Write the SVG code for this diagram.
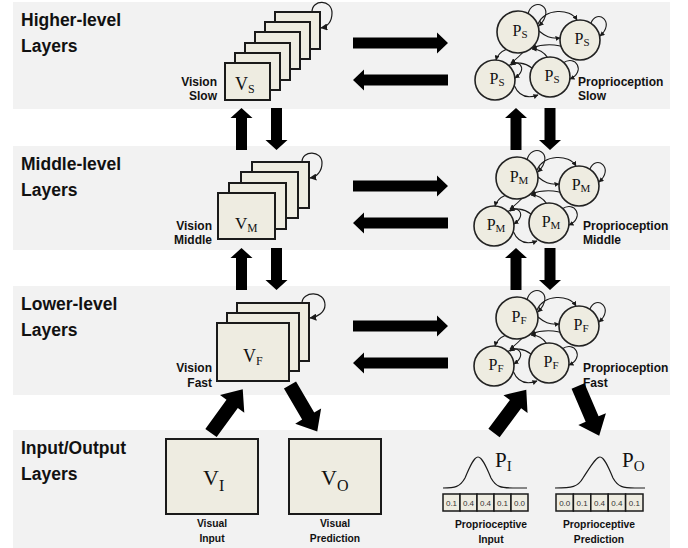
<svg xmlns="http://www.w3.org/2000/svg" xmlns:xlink="http://www.w3.org/1999/xlink" width="688" height="548" viewBox="0 0 688 548">
  <style>
    .band { fill: #f2f2f2; }
    .frame { fill: #eeece1; stroke: #1a1a1a; stroke-width: 2; }
    .unit { fill: #eeece1; stroke: #222; stroke-width: 1.6; }
    .cell { fill: #eeece1; stroke: #1a1a1a; stroke-width: 1.5; }
    .title { font-family: "Liberation Sans", Arial, sans-serif; font-weight: bold; font-size: 17.5px; fill: #111; }
    .lbl { font-family: "Liberation Sans", Arial, sans-serif; font-weight: bold; font-size: 12px; fill: #111; }
    .cap { font-family: "Liberation Sans", Arial, sans-serif; font-weight: bold; font-size: 10.3px; fill: #111; text-anchor: middle; }
    .sym { font-family: "Liberation Serif", "Times New Roman", serif; fill: #111; }
    .num { font-family: "Liberation Sans", Arial, sans-serif; font-size: 8px; fill: #333; text-anchor: middle; }
    .link { fill: none; stroke: #1a1a1a; stroke-width: 1.1; }
    .loop { fill: none; stroke: #1a1a1a; stroke-width: 1.2; }
    .bell { fill: none; stroke: #1a1a1a; stroke-width: 1.2; }
    .big { fill: #000; }
  </style>
  <defs>
    <marker id="tip" viewBox="0 0 10 10" refX="9" refY="5" markerWidth="5" markerHeight="5" markerUnits="userSpaceOnUse" orient="auto">
      <path d="M0,0 L10,5 L0,10 z" fill="#1a1a1a"/>
    </marker>
    <marker id="tipL" viewBox="0 0 10 10" refX="9" refY="5" markerWidth="7" markerHeight="7" markerUnits="userSpaceOnUse" orient="auto">
      <path d="M0,0 L10,5 L0,10 z" fill="#1a1a1a"/>
    </marker>
    <!-- recurrent wiring among four units, origin at the upper-left unit centre -->
    <g id="pnet">
      <path class="link" marker-end="url(#tip)" d="M10,-18 C14,-36 40,-26 21,-6"/>
      <path class="link" marker-end="url(#tip)" d="M73,-9 C79,-24 98,-10 82,4"/>
      <path class="link" marker-end="url(#tip)" d="M-9,34 C-2,25 12,36 -3,46"/>
      <path class="link" marker-end="url(#tip)" d="M45,31 C58,22 68,40 52,47"/>
      <path class="link" marker-end="url(#tip)" d="M20,-8 C27,-24 52,-24 59,-12"/>
      <path class="link" marker-end="url(#tip)" d="M21,-1 C27,4 32,7 42,6"/>
      <path class="link" marker-end="url(#tip)" d="M50,17 C38,11 24,12 14,16"/>
      <path class="link" marker-end="url(#tip)" d="M30,26 C26,20 20,17 14,17"/>
      <path class="link" marker-end="url(#tip)" d="M-11,17 C-18,20 -21,24 -22,28"/>
      <path class="link" marker-end="url(#tip)" d="M14,36 C6,30 -2,30 -7,33"/>
      <path class="link" marker-end="url(#tip)" d="M6,19 C2,24 -3,28 -7,31"/>
      <path class="link" marker-end="url(#tip)" d="M-4,53 C2,67 12,66 20,63"/>
    </g>
    <polygon id="arrR" points="0,-5.5 84,-5.5 84,-10.5 95,0 84,10.5 84,5.5 0,5.5"/>
    <polygon id="arrUp" points="0,0 11,10 5.5,10 5.5,42 -5.5,42 -5.5,10 -11,10"/>
    <polygon id="arrDiag" points="0,-7 36,-7 36,-15 54,0 36,15 36,7 0,7"/>
  </defs>

  <!-- layer bands -->
  <rect class="band" x="13" y="2" width="657" height="107"/>
  <rect class="band" x="13" y="146" width="657" height="104"/>
  <rect class="band" x="13" y="286" width="657" height="109"/>
  <rect class="band" x="13" y="430" width="657" height="118"/>

  <text class="title" x="21" y="26">Higher-level</text>
  <text class="title" x="21" y="52">Layers</text>
  <text class="title" x="21" y="170">Middle-level</text>
  <text class="title" x="21" y="196">Layers</text>
  <text class="title" x="21" y="310">Lower-level</text>
  <text class="title" x="21" y="336">Layers</text>
  <text class="title" x="21" y="454">Input/Output</text>
  <text class="title" x="21" y="480">Layers</text>

  <!-- vision stacks -->
  <g id="vision-slow">
    <rect class="frame" x="275" y="12" width="45" height="37"/>
    <rect class="frame" x="265" y="22" width="45" height="37"/>
    <rect class="frame" x="255" y="32" width="45" height="37"/>
    <rect class="frame" x="245" y="43" width="45" height="37"/>
    <rect class="frame" x="235" y="53" width="45" height="37"/>
    <rect class="frame" x="225" y="63" width="45" height="37"/>
    <path class="loop" marker-end="url(#tipL)" d="M312,12 C312,-1 332,-1 332,13 C332,22 327,27 321,28"/>
    <text class="sym" x="235" y="90" font-size="18">V<tspan font-size="12" dy="3">S</tspan></text>
    <text class="lbl" x="217" y="86" text-anchor="end">Vision</text>
    <text class="lbl" x="217" y="100" text-anchor="end">Slow</text>
  </g>
  <g id="vision-middle">
    <rect class="frame" x="252" y="162" width="57" height="46"/>
    <rect class="frame" x="241" y="172" width="57" height="46"/>
    <rect class="frame" x="229" y="183" width="57" height="46"/>
    <rect class="frame" x="218" y="193" width="57" height="46"/>
    <path class="loop" marker-end="url(#tipL)" d="M302,162 C302,150 322,150 322,163 C322,171 317,177 310,178"/>
    <text class="sym" x="235" y="229" font-size="17">V<tspan font-size="11.5" dy="3">M</tspan></text>
    <text class="lbl" x="212" y="230" text-anchor="end">Vision</text>
    <text class="lbl" x="212" y="244" text-anchor="end">Middle</text>
  </g>
  <g id="vision-fast">
    <rect class="frame" x="237" y="303" width="72" height="58"/>
    <rect class="frame" x="227" y="313" width="72" height="58"/>
    <rect class="frame" x="217" y="323" width="72" height="58"/>
    <path class="loop" marker-end="url(#tipL)" d="M302,303 C302,291 325,290 325,305 C325,312 318,317 310,318"/>
    <text class="sym" x="243" y="362" font-size="18">V<tspan font-size="12" dy="3">F</tspan></text>
    <text class="lbl" x="212" y="372" text-anchor="end">Vision</text>
    <text class="lbl" x="212" y="387" text-anchor="end">Fast</text>
  </g>

  <!-- visual input / prediction -->
  <g id="visual-input">
    <rect class="frame" x="166" y="439" width="92" height="75"/>
    <text class="sym" x="203" y="485" font-size="22">V<tspan font-size="16" dy="6">I</tspan></text>
    <text class="cap" x="212" y="527">Visual</text>
    <text class="cap" x="212" y="542">Input</text>
  </g>
  <g id="visual-prediction">
    <rect class="frame" x="289" y="439" width="92" height="75"/>
    <text class="sym" x="321" y="485" font-size="22">V<tspan font-size="16" dy="6">O</tspan></text>
    <text class="cap" x="335" y="527">Visual</text>
    <text class="cap" x="335" y="542">Prediction</text>
  </g>

  <!-- proprioception units, slow -->
  <g id="prop-slow">
    <use xlink:href="#pnet" href="#pnet" transform="translate(518,32)"/>
    <g id="ps-a"><circle class="unit" cx="518" cy="32" r="21"/><text class="sym" x="520" y="36" font-size="16" text-anchor="middle">P<tspan font-size="11" dy="2">S</tspan></text></g>
    <g id="ps-b"><circle class="unit" cx="580" cy="40" r="20"/><text class="sym" x="582" y="44" font-size="16" text-anchor="middle">P<tspan font-size="11" dy="2">S</tspan></text></g>
    <g id="ps-c"><circle class="unit" cx="495" cy="80" r="20"/><text class="sym" x="497" y="84" font-size="16" text-anchor="middle">P<tspan font-size="11" dy="2">S</tspan></text></g>
    <g id="ps-d"><circle class="unit" cx="550" cy="77" r="20"/><text class="sym" x="552" y="81" font-size="16" text-anchor="middle">P<tspan font-size="11" dy="2">S</tspan></text></g>
    <text class="lbl" x="578" y="86">Proprioception</text>
    <text class="lbl" x="578" y="100">Slow</text>
  </g>
  <g id="prop-middle">
    <use xlink:href="#pnet" href="#pnet" transform="translate(517,178)"/>
    <g id="pm-a"><circle class="unit" cx="517" cy="178" r="21"/><text class="sym" x="519" y="182" font-size="16" text-anchor="middle">P<tspan font-size="11" dy="2">M</tspan></text></g>
    <g id="pm-b"><circle class="unit" cx="579" cy="186" r="20"/><text class="sym" x="581" y="190" font-size="16" text-anchor="middle">P<tspan font-size="11" dy="2">M</tspan></text></g>
    <g id="pm-c"><circle class="unit" cx="494" cy="226" r="20"/><text class="sym" x="496" y="230" font-size="16" text-anchor="middle">P<tspan font-size="11" dy="2">M</tspan></text></g>
    <g id="pm-d"><circle class="unit" cx="549" cy="223" r="20"/><text class="sym" x="551" y="227" font-size="16" text-anchor="middle">P<tspan font-size="11" dy="2">M</tspan></text></g>
    <text class="lbl" x="583" y="230">Proprioception</text>
    <text class="lbl" x="583" y="244">Middle</text>
  </g>
  <g id="prop-fast">
    <use xlink:href="#pnet" href="#pnet" transform="translate(517,318)"/>
    <g id="pf-a"><circle class="unit" cx="517" cy="318" r="21"/><text class="sym" x="519" y="322" font-size="16" text-anchor="middle">P<tspan font-size="11" dy="2">F</tspan></text></g>
    <g id="pf-b"><circle class="unit" cx="579" cy="326" r="20"/><text class="sym" x="581" y="330" font-size="16" text-anchor="middle">P<tspan font-size="11" dy="2">F</tspan></text></g>
    <g id="pf-c"><circle class="unit" cx="494" cy="366" r="20"/><text class="sym" x="496" y="370" font-size="16" text-anchor="middle">P<tspan font-size="11" dy="2">F</tspan></text></g>
    <g id="pf-d"><circle class="unit" cx="549" cy="363" r="20"/><text class="sym" x="551" y="367" font-size="16" text-anchor="middle">P<tspan font-size="11" dy="2">F</tspan></text></g>
    <text class="lbl" x="583" y="372">Proprioception</text>
    <text class="lbl" x="583" y="387">Fast</text>
  </g>

  <!-- proprioceptive input / prediction -->
  <g id="prop-input">
    <path class="bell" d="M443,488 C455,488 460,487 465,478 C470,466 474,457 478,457 C482,457 486,466 491,478 C496,487 501,488 513,488 L527,488"/>
    <text class="sym" x="495" y="467" font-size="21">P<tspan font-size="15" dy="4">I</tspan></text>
    <rect class="cell" x="443" y="494" width="17" height="17"/>
    <rect class="cell" x="460" y="494" width="17" height="17"/>
    <rect class="cell" x="477" y="494" width="17" height="17"/>
    <rect class="cell" x="494" y="494" width="17" height="17"/>
    <rect class="cell" x="511" y="494" width="17" height="17"/>
    <text class="num" x="451.5" y="505.5">0.1</text>
    <text class="num" x="468.5" y="505.5">0.4</text>
    <text class="num" x="485.5" y="505.5">0.4</text>
    <text class="num" x="502.5" y="505.5">0.1</text>
    <text class="num" x="519.5" y="505.5">0.0</text>
    <text class="cap" x="491" y="528">Proprioceptive</text>
    <text class="cap" x="491" y="543">Input</text>
  </g>
  <g id="prop-prediction">
    <path class="bell" d="M555,488 C572,488 578,487 583,478 C591,466 596,457 600,457 C604,457 608,466 613,478 C618,487 623,488 635,488 L645,488"/>
    <text class="sym" x="622" y="467" font-size="21">P<tspan font-size="15" dy="4">O</tspan></text>
    <rect class="cell" x="556" y="494" width="17.4" height="17"/>
    <rect class="cell" x="573.4" y="494" width="17.4" height="17"/>
    <rect class="cell" x="590.8" y="494" width="17.4" height="17"/>
    <rect class="cell" x="608.2" y="494" width="17.4" height="17"/>
    <rect class="cell" x="625.6" y="494" width="17.4" height="17"/>
    <text class="num" x="564.7" y="505.5">0.0</text>
    <text class="num" x="582.1" y="505.5">0.1</text>
    <text class="num" x="599.5" y="505.5">0.4</text>
    <text class="num" x="616.9" y="505.5">0.4</text>
    <text class="num" x="634.3" y="505.5">0.1</text>
    <text class="cap" x="599" y="528">Proprioceptive</text>
    <text class="cap" x="599" y="543">Prediction</text>
  </g>

  <!-- connectors between modules and layers -->
  <g id="connectors" class="big">
    <use href="#arrR" xlink:href="#arrR" transform="translate(353,43)"/>
    <use href="#arrR" xlink:href="#arrR" transform="translate(448,80) rotate(180)"/>
    <use href="#arrR" xlink:href="#arrR" transform="translate(353,186)"/>
    <use href="#arrR" xlink:href="#arrR" transform="translate(448,223) rotate(180)"/>
    <use href="#arrR" xlink:href="#arrR" transform="translate(353,326)"/>
    <use href="#arrR" xlink:href="#arrR" transform="translate(448,363) rotate(180)"/>

    <use href="#arrUp" xlink:href="#arrUp" transform="translate(241.5,108)"/>
    <use href="#arrUp" xlink:href="#arrUp" transform="translate(276.5,150) rotate(180)"/>
    <use href="#arrUp" xlink:href="#arrUp" transform="translate(516,108)"/>
    <use href="#arrUp" xlink:href="#arrUp" transform="translate(550,150) rotate(180)"/>
    <use href="#arrUp" xlink:href="#arrUp" transform="translate(241.5,248)"/>
    <use href="#arrUp" xlink:href="#arrUp" transform="translate(276.5,290) rotate(180)"/>
    <use href="#arrUp" xlink:href="#arrUp" transform="translate(516,248)"/>
    <use href="#arrUp" xlink:href="#arrUp" transform="translate(550,290) rotate(180)"/>

    <use href="#arrDiag" xlink:href="#arrDiag" transform="translate(211,433) rotate(-54)"/>
    <use href="#arrDiag" xlink:href="#arrDiag" transform="translate(290,385) rotate(59.7)"/>
    <use href="#arrDiag" xlink:href="#arrDiag" transform="translate(494,433) rotate(-53.3)"/>
    <use href="#arrDiag" xlink:href="#arrDiag" transform="translate(578,386) rotate(66.9)"/>
  </g>
</svg>
